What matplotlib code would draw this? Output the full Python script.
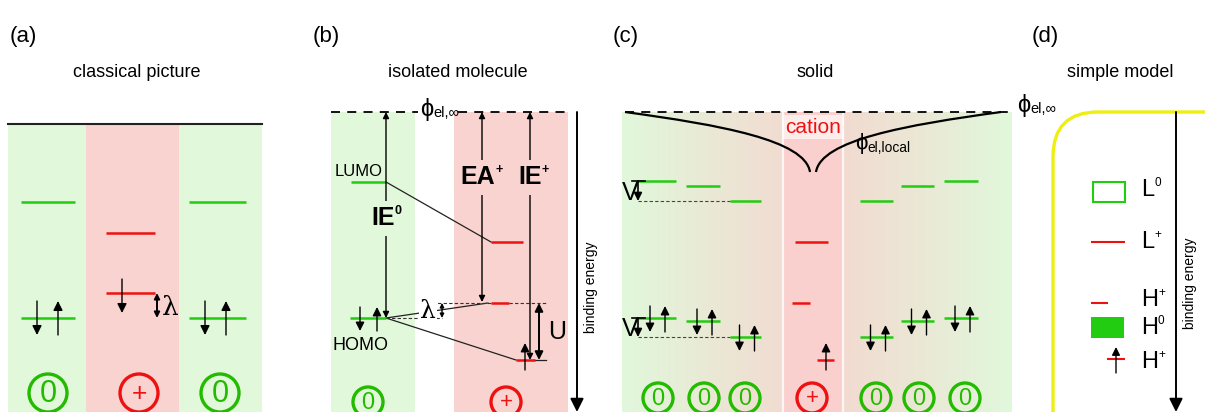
import matplotlib.pyplot as plt
import numpy as np
from matplotlib.patches import Rectangle, Circle, FancyBboxPatch
from matplotlib.path import Path
from matplotlib.patches import PathPatch
from matplotlib.colors import to_rgb

plt.rcParams['font.family'] = ['Liberation Sans', 'DejaVu Sans']

GREEN = '#22cc11'
RED = '#ee1111'
CGREEN = '#22bb00'
BG_G = '#e1f8db'
BG_R = '#f8d3cf'

# ---- data (energies in px, downwards = higher binding energy) ----
titles = ['classical picture', 'isolated molecule', 'solid', 'simple model']
title_x = [137, 458, 815, 1120]
letters = ['(a)', '(b)', '(c)', '(d)']
letter_x = [10, 313, 613, 1032]

# (a) three molecules: neutral, cation, neutral
a_cols = [(21, 75), (106, 155), (189, 246)]
a_lumo = [202, 233, 202]
a_homo = [318, 293, 318]
a_kind = ['0', '+', '0']
a_circ_x = [48, 139, 220]

# (b) isolated molecule
b_lumo0, b_homo0 = 182, 318
b_lumop, b_homop, b_homop_occ = 242, 303, 360
b_vac = 112

# (c) solid
c_cols = [(636, 676), (686, 720), (730, 761), (860, 893), (901, 934), (944, 978)]
c_lumo = [181, 186, 201, 201, 186, 181]
c_homo = [318, 321, 337, 337, 321, 318]
c_circ_x = [658, 704, 745, 876, 919, 965]
c_cation_L, c_cation_H, c_cation_Hocc = 242, 303, 360

# (d) simple model legend
d_labels = ['L', 'L', 'H', 'H', 'H']
d_sups = ['0', '+', '+', '0', '+']
d_label_y = [190, 242, 300, 328, 362]

fig = plt.figure(figsize=(12.05, 4.12), dpi=100)
ax = fig.add_axes([0, 0, 1, 1])
ax.set_xlim(0, 1205)
ax.set_ylim(412, 0)
ax.axis('off')


def level(x0, x1, y, c, lw=1.8):
    ax.plot([x0, x1], [y, y], color=c, lw=lw, solid_capstyle='butt', zorder=3)


def arrow(x, y0, y1, style='-|>', lw=1.0, ms=13):
    ax.annotate('', xy=(x, y1), xytext=(x, y0),
                arrowprops=dict(arrowstyle=style, color='black', lw=lw,
                                mutation_scale=ms, shrinkA=0, shrinkB=0),
                zorder=4)


def spins(xd, xu, y, h0, h1, ms=13):
    arrow(xd, y - h0, y + h1, ms=ms)
    arrow(xu, y + h1, y - h0, ms=ms)


def charge(x, y, r, kind, fs=15):
    c = CGREEN if kind == '0' else RED
    ax.add_patch(Circle((x, y), r, fill=False, ec=c, lw=2.4, zorder=3))
    ax.text(x, y + 1, kind, color=c, fontsize=fs, ha='center', va='center', zorder=4)


def label(x, y, main, sup=None, sub=None, fs=15, ha='left', bbox=None, **kw):
    t = ax.text(x, y, main, fontsize=fs, ha=ha, va='center', bbox=bbox, zorder=5, **kw)
    if sup:
        ax.annotate(sup, xy=(1, 0.68), xycoords=t, xytext=(0, 0), textcoords='offset points',
                    fontsize=fs * 0.5, ha='left', va='baseline', zorder=6, **kw)
    if sub:
        ax.annotate(sub, xy=(1, 0.14), xycoords=t, xytext=(0, 0), textcoords='offset points',
                    fontsize=fs * 0.62, ha='left', va='baseline', zorder=6, **kw)
    return t


for t, x in zip(titles, title_x):
    ax.text(x, 72, t, fontsize=13, ha='center', va='center')
for t, x in zip(letters, letter_x):
    ax.text(x, 36, t, fontsize=16, ha='left', va='center')

# ---------------- (a) ----------------
ax.add_patch(Rectangle((8, 125), 78, 290, color=BG_G, lw=0))
ax.add_patch(Rectangle((86, 125), 93, 290, color=BG_R, lw=0))
ax.add_patch(Rectangle((179, 125), 83, 290, color=BG_G, lw=0))
ax.plot([8, 262], [124, 124], color='#222222', lw=1.5)
for (x0, x1), yl, yh, k, cx in zip(a_cols, a_lumo, a_homo, a_kind, a_circ_x):
    c = GREEN if k == '0' else RED
    level(x0, x1, yl, c)
    level(x0, x1, yh, c)
    if k == '0':
        spins(x0 + 16, x0 + 37, yh, 17, 17, ms=14)
    else:
        arrow(x0 + 16, yh - 14, yh + 20, ms=14)
        arrow(x1 + 2, yh, a_homo[0], style='<|-|>', lw=1.4, ms=8)
        ax.text(x1 + 7, (yh + a_homo[0]) / 2 + 2, 'λ', fontsize=19,
                family='DejaVu Serif', ha='left', va='center')
    charge(cx, 393, 19, k, fs=22 if k == '0' else 19)

# ---------------- (b) ----------------
ax.add_patch(Rectangle((331, b_vac), 84, 300, color=BG_G, lw=0))
ax.add_patch(Rectangle((454, b_vac), 114, 300, color=BG_R, lw=0))
ax.plot([331, 418], [b_vac, b_vac], color='black', lw=1.3, ls=(0, (5, 4)))
ax.plot([458, 568], [b_vac, b_vac], color='black', lw=1.3, ls=(0, (5, 4)))
label(420, b_vac - 3, 'ϕ', sub='el,∞', fs=17)
arrow(577, b_vac, 412, lw=1.4, ms=20)
ax.text(591, 287, 'binding energy', rotation=90, fontsize=10, ha='center', va='center')

level(351, 386, b_lumo0, GREEN)
level(350, 386, b_homo0, GREEN)
ax.text(335, 171, 'LUMO', fontsize=12, ha='left', va='center')
ax.text(333, 346, 'HOMO', fontsize=13, ha='left', va='center')
spins(360, 377, b_homo0, 11, 13)

level(491, 523, b_lumop, RED)
level(491, 509, b_homop, RED)
level(516, 535, b_homop_occ, RED)
arrow(525, b_homop_occ + 10, b_homop_occ - 17)

# connection lines
ax.plot([386, 491], [b_lumo0, b_lumop], color='#222222', lw=0.9, zorder=2)
ax.plot([386, 488], [b_homo0, b_homop], color='#222222', lw=0.9, zorder=2)
ax.plot([386, 516], [b_homo0, b_homop_occ], color='#222222', lw=0.9, zorder=2)
ax.plot([386, 442], [b_homo0, b_homo0], color='#333333', lw=0.8, ls=(0, (3, 2)), zorder=2)
ax.plot([432, 491], [b_homop, b_homop], color='#333333', lw=0.8, ls=(0, (3, 2)), zorder=2)
ax.plot([509, 546], [b_homop, b_homop], color='#333333', lw=0.8, ls=(0, (3, 2)), zorder=2)
ax.plot([533, 546], [b_homop_occ, b_homop_occ], color='#222222', lw=0.9, zorder=2)
ax.text(428, 311, 'λ', fontsize=18, family='DejaVu Serif', ha='center', va='center',
        bbox=dict(fc='white', ec='none', pad=0.5), zorder=3)
arrow(442, b_homop, b_homo0, style='<|-|>', lw=1.0, ms=6)

# IE0, EA+, IE+, U
arrow(386, b_vac, b_homo0, style='<|-|>', lw=1.0, ms=9)
label(383, 218, 'IE', sup='0', fs=18, ha='center', fontweight='bold',
      bbox=dict(fc=BG_G, ec='none', pad=4))
arrow(482, b_vac, b_homop - 1, style='<|-|>', lw=1.0, ms=9)
label(478, 177, 'EA', sup='+', fs=18, ha='center', fontweight='bold',
      bbox=dict(fc=BG_R, ec='none', pad=4))
arrow(530, b_vac, b_homop_occ, style='<|-|>', lw=1.0, ms=9)
label(530, 177, 'IE', sup='+', fs=18, ha='center', fontweight='bold',
      bbox=dict(fc=BG_R, ec='none', pad=4))
arrow(539, b_homop, b_homop_occ, style='<|-|>', lw=1.4, ms=12)
ax.text(548, 332, 'U', fontsize=18, ha='left', va='center')

charge(368, 402, 15, '0', fs=17)
charge(506, 402, 15, '+', fs=16)

# ---------------- (c) ----------------
xs = np.linspace(0, 1, 400)
g, r = np.array(to_rgb(BG_G)), np.array(to_rgb('#f5d6cf'))
w = np.clip(1 - np.abs(xs - 0.5) * 2, 0, 1)[:, None]
grad = (g * (1 - w) + r * w)[None, :, :]
ax.imshow(grad, extent=(622, 1012, 412, 112), aspect='auto', zorder=0)
ax.add_patch(Rectangle((783, 112), 60, 300, color='#f9d0cd', lw=0, zorder=0.5))
ax.plot([783, 783], [112, 412], color='white', lw=1.6, alpha=0.8, zorder=0.6)
ax.plot([843, 843], [112, 412], color='white', lw=1.6, alpha=0.8, zorder=0.6)
ax.set_xlim(0, 1205)
ax.set_ylim(412, 0)

ax.plot([625, 1008], [b_vac, b_vac], color='black', lw=1.3, ls=(0, (5, 4)), zorder=2)
label(1017, 105, 'ϕ', sub='el,∞', fs=17)

pot_left = [(625, 112), (720, 125), (805, 140), (810, 172)]
pot_right = [(816, 172), (821, 140), (906, 125), (1001, 112)]
for pts in (pot_left, pot_right):
    p = Path(pts, [Path.MOVETO, Path.CURVE4, Path.CURVE4, Path.CURVE4])
    ax.add_patch(PathPatch(p, fc='none', ec='black', lw=1.6, zorder=3))
ax.text(813, 127, 'cation', color=RED, fontsize=15, ha='center', va='center',
        bbox=dict(fc='white', ec='none', alpha=0.6, pad=2), zorder=2)
label(855, 144, 'ϕ', sub='el,local', fs=16)

for (x0, x1), yl, yh, cx in zip(c_cols, c_lumo, c_homo, c_circ_x):
    level(x0, x1, yl, GREEN)
    level(x0, x1, yh, GREEN)
    m = (x0 + x1) / 2
    spins(m - 6, m + 9, yh, 12, 14)
    charge(cx, 398, 15, '0', fs=17)
level(795, 828, c_cation_L, RED)
level(792, 810, c_cation_H, RED)
level(817, 834, c_cation_Hocc, RED)
arrow(826, c_cation_Hocc + 10, c_cation_Hocc - 17)
charge(812, 398, 15, '+', fs=16)

for y0, y1 in ((c_lumo[0], c_lumo[2]), (c_homo[0], c_homo[2])):
    ax.text(622, (y0 + y1) / 2 + 2, 'V', fontsize=18, ha='left', va='center', zorder=4)
    ax.plot([632, 645], [y0, y0], color='black', lw=1.2, zorder=4)
    arrow(638, y0, y1, lw=1.2, ms=12)
    ax.plot([638, 730], [y1, y1], color='#444444', lw=0.8, ls=(0, (3, 2)), zorder=2)

# ---------------- (d) ----------------
ax.add_patch(FancyBboxPatch((1053, 112), 200, 360, boxstyle='round,pad=0,rounding_size=45',
                            fc='none', ec='#eeee11', lw=2.4, zorder=2))
arrow(1176, 112, 412, lw=1.4, ms=20)
ax.text(1190, 283, 'binding energy', rotation=90, fontsize=10, ha='center', va='center')
ax.add_patch(Rectangle((1093, 182), 32, 20, fill=False, ec=GREEN, lw=1.5, zorder=3))
level(1091, 1125, 242, RED, lw=1.5)
level(1091, 1108, 303, RED, lw=1.5)
ax.add_patch(Rectangle((1091, 317), 33, 21, color='#22cc11', lw=0, zorder=3))
level(1107, 1125, 359, RED, lw=1.5)
arrow(1116, 373, 347, lw=1.0, ms=12)
for lab, sup, y in zip(d_labels, d_sups, d_label_y):
    label(1141, y, lab, sup=sup, fs=17)

fig.savefig('out.png', dpi=100)
